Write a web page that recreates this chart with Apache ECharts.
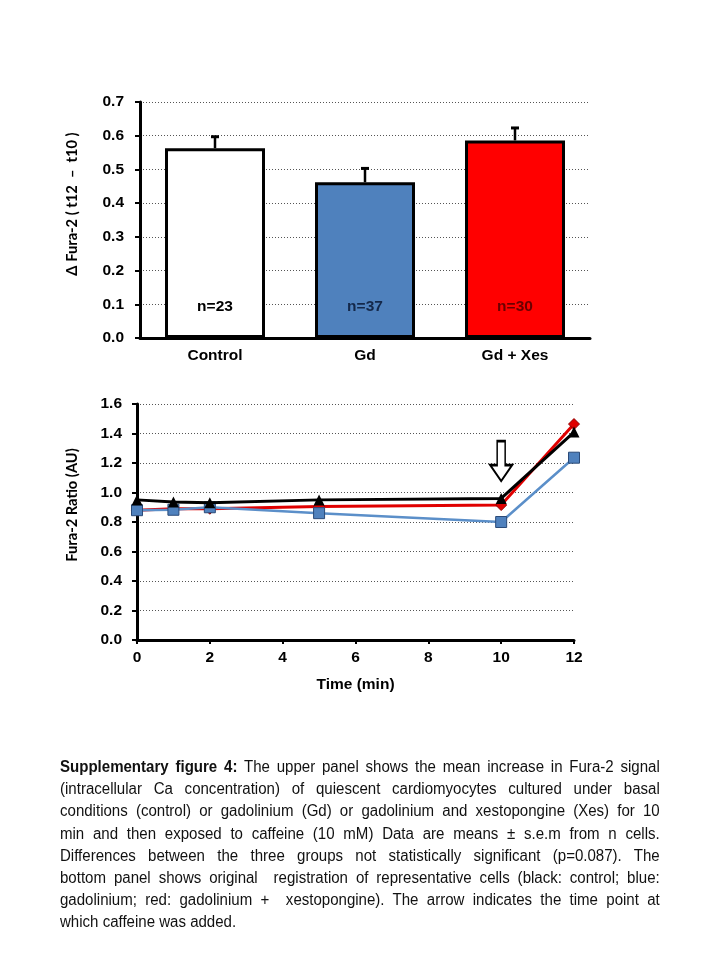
<!DOCTYPE html>
<html>
<head>
<meta charset="utf-8">
<script src="https://cdn.jsdelivr.net/npm/echarts@6/dist/echarts.min.js"></script>
<style>
html,body{margin:0;padding:0;background:#fff;}
#chart{position:absolute;left:0;top:0;width:720px;height:960px;}
#caption{position:absolute;left:60px;top:756px;width:638px;transform:scaleX(0.94);transform-origin:0 0;font-family:"Liberation Sans",Arial,sans-serif;font-size:16px;line-height:22.2px;color:#111;}
#caption div{text-align:justify;text-align-last:justify;white-space:nowrap;}
#caption div.last{text-align-last:left;}
</style>
</head>
<body>
<div id="chart"></div>
<div id="caption">
<div><b>Supplementary figure 4:</b> The upper panel shows the mean increase in Fura-2 signal</div>
<div>(intracellular Ca concentration) of quiescent cardiomyocytes cultured under basal</div>
<div>conditions (control) or gadolinium (Gd) or gadolinium and xestopongine (Xes) for 10</div>
<div>min and then exposed to caffeine (10 mM) Data are means &plusmn; s.e.m from n cells.</div>
<div>Differences between the three groups not statistically significant (p=0.087). The</div>
<div>bottom panel shows original&nbsp; registration of representative cells (black: control; blue:</div>
<div>gadolinium; red: gadolinium +&nbsp; xestopongine). The arrow indicates the time point at</div>
<div class="last">which caffeine was added.</div>
</div>
<script>
// ---- Top panel data ----
var barCategories = ['Control', 'Gd', 'Gd + Xes'];
var barValues = [0.563, 0.462, 0.586];
var barErrors = [0.034, 0.041, 0.037];
var barCounts = ['n=23', 'n=37', 'n=30'];
var barColors = ['#ffffff', '#4f81bd', '#ff0000'];
var countColors = ['#000000', '#14284a', '#6a0000'];
var topTicks = [0, 0.1, 0.2, 0.3, 0.4, 0.5, 0.6, 0.7];

// ---- Bottom panel data ----
var timePoints = [0, 1, 2, 5, 10, 12];
var controlRatio = [0.95, 0.935, 0.93, 0.95, 0.96, 1.41];
var gdRatio = [0.88, 0.883, 0.90, 0.86, 0.80, 1.236];
var gdXesRatio = [0.88, 0.89, 0.89, 0.905, 0.915, 1.464];
var caffeineTime = 10;
var arrowLevel = 1.213;
var bottomTicks = [0, 0.2, 0.4, 0.6, 0.8, 1.0, 1.2, 1.4, 1.6];

function pairs(xs, ys) { return xs.map(function (x, i) { return [x, ys[i]]; }); }

var chart = echarts.init(document.getElementById('chart'));
var labelFont = { color: '#000', fontSize: 15.5, fontWeight: 'bold', fontFamily: 'Liberation Sans, Arial, sans-serif' };
var gridLine = { show: true, lineStyle: { color: '#555', type: [1, 2], width: 1 } };

var option = {
  animation: false,
  backgroundColor: '#fff',
  grid: [
    { left: 140, right: 130, top: 102, bottom: 622 },
    { left: 137, right: 146, top: 404, bottom: 320 }
  ],
  xAxis: [
    {
      gridIndex: 0, type: 'category', data: barCategories,
      axisLine: { lineStyle: { color: '#000', width: 3 } },
      axisTick: { show: false },
      axisLabel: Object.assign({ margin: 10 }, labelFont),
      splitLine: { show: false }
    },
    {
      gridIndex: 1, type: 'value', min: 0, max: 12, interval: 2,
      axisLine: { onZero: false, lineStyle: { color: '#000', width: 3 } },
      axisTick: { show: true, length: 4, lineStyle: { color: '#000', width: 2 } },
      axisLabel: Object.assign({ margin: 10 }, labelFont),
      splitLine: { show: false },
      name: 'Time (min)', nameLocation: 'middle', nameGap: 37,
      nameTextStyle: labelFont
    }
  ],
  yAxis: [
    {
      gridIndex: 0, type: 'value', min: topTicks[0], max: topTicks[topTicks.length - 1], interval: 0.1,
      axisLine: { show: true, lineStyle: { color: '#000', width: 3 } },
      axisTick: { show: true, length: 5, lineStyle: { color: '#000', width: 2 } },
      axisLabel: Object.assign({ margin: 16, formatter: function (v) { return v.toFixed(1); } }, labelFont),
      splitLine: gridLine
    },
    {
      gridIndex: 1, type: 'value', min: bottomTicks[0], max: bottomTicks[bottomTicks.length - 1], interval: 0.2,
      axisLine: { show: true, lineStyle: { color: '#000', width: 3 } },
      axisTick: { show: true, length: 5, lineStyle: { color: '#000', width: 2 } },
      axisLabel: Object.assign({ margin: 15, formatter: function (v) { return v.toFixed(1); } }, labelFont),
      splitLine: gridLine
    }
  ],
  graphic: [
    {
      type: 'text', x: 72, y: 204, rotation: Math.PI / 2,
      style: { text: '\u0394 Fura-2 ( t12  \u2013  t10 )', fill: '#000', font: 'bold 14.7px Lato, "Open Sans", sans-serif', align: 'center', verticalAlign: 'middle' }
    },
    {
      type: 'text', x: 72, y: 505, rotation: Math.PI / 2,
      style: { text: 'Fura-2 Ratio (AU)', fill: '#000', font: 'bold 14.7px Lato, "Open Sans", sans-serif', align: 'center', verticalAlign: 'middle' }
    }
  ],
  series: [
    {
      type: 'bar', xAxisIndex: 0, yAxisIndex: 0, barWidth: 100, z: 2,
      data: barValues.map(function (v, i) {
        return {
          value: v,
          itemStyle: { color: barColors[i], borderColor: '#000', borderWidth: 3 },
          label: { color: countColors[i] }
        };
      }),
      label: {
        show: true, position: 'insideBottom', distance: 23,
        fontSize: 15.5, fontWeight: 'bold', fontFamily: 'Liberation Sans, Arial, sans-serif',
        formatter: function (p) { return barCounts[p.dataIndex]; }
      }
    },
    {
      type: 'custom', xAxisIndex: 0, yAxisIndex: 0, z: 1,
      data: barValues.map(function (v, i) { return [i, v, v + barErrors[i]]; }),
      renderItem: function (params, api) {
        var lo = api.coord([api.value(0), api.value(1)]);
        var hi = api.coord([api.value(0), api.value(2)]);
        return {
          type: 'group',
          children: [
            { type: 'line', shape: { x1: lo[0], y1: lo[1], x2: hi[0], y2: hi[1] }, style: { stroke: '#000', lineWidth: 2.5 } },
            { type: 'line', shape: { x1: hi[0] - 4, y1: hi[1], x2: hi[0] + 4, y2: hi[1] }, style: { stroke: '#000', lineWidth: 3 } }
          ]
        };
      }
    },
    {
      name: 'Gd + Xes', type: 'line', xAxisIndex: 1, yAxisIndex: 1, z: 3,
      data: pairs(timePoints, gdXesRatio),
      symbol: 'diamond', symbolSize: 11, showAllSymbol: true,
      lineStyle: { color: '#e00000', width: 3 },
      itemStyle: { color: '#e00000', borderColor: '#900000', borderWidth: 1 }
    },
    {
      name: 'Gd', type: 'line', xAxisIndex: 1, yAxisIndex: 1, z: 4,
      data: pairs(timePoints, gdRatio),
      symbol: 'rect', symbolSize: 11, showAllSymbol: true,
      lineStyle: { color: '#5b8fc9', width: 2.5 },
      itemStyle: { color: '#4f81bd', borderColor: '#2a4a78', borderWidth: 1 }
    },
    {
      name: 'Control', type: 'line', xAxisIndex: 1, yAxisIndex: 1, z: 5,
      data: pairs(timePoints, controlRatio),
      symbol: 'triangle', symbolSize: 11, showAllSymbol: true,
      lineStyle: { color: '#000', width: 3 },
      itemStyle: { color: '#000' },
      markPoint: {
        silent: true,
        symbol: 'path://M7,0 L15,0 L15,24 L22,24 L11,40 L0,24 L7,24 Z',
        symbolSize: [22, 40],
        itemStyle: { color: '#fff', borderColor: '#000', borderWidth: 2 },
        label: { show: false },
        data: [{ coord: [caffeineTime, arrowLevel] }]
      }
    }
  ]
};
chart.setOption(option);
</script>
</body>
</html>
